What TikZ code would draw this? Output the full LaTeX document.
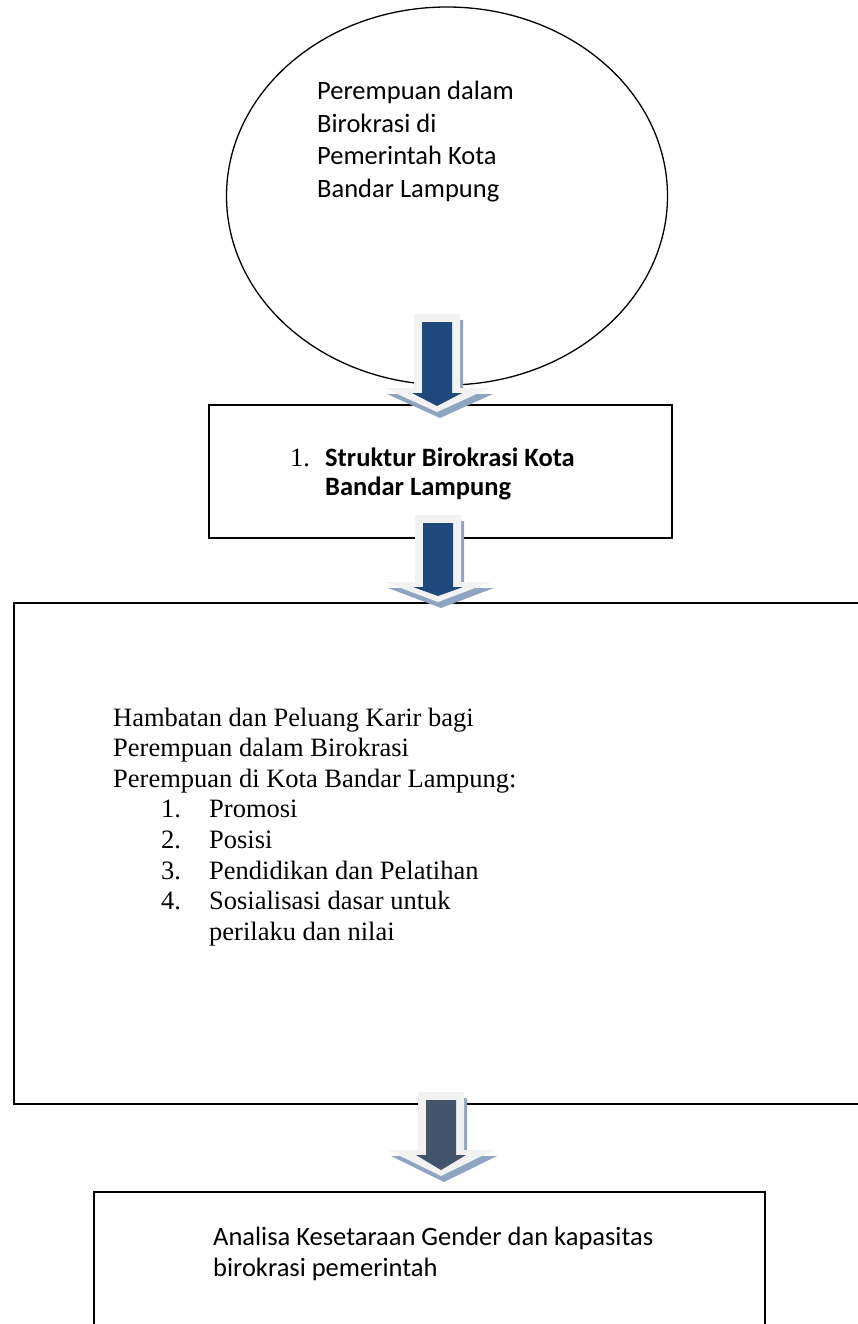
\documentclass[tikz,border=0pt]{standalone}
\usepackage{fontspec}
\setmainfont{Liberation Serif}
\newfontfamily\calibri{Carlito}
\usetikzlibrary{shapes.geometric}

\definecolor{arrowblue}{HTML}{1F497D}
\definecolor{arrowslate}{HTML}{44546A}
\definecolor{arrowlight}{HTML}{F2F2F2}
\definecolor{arrowshade}{HTML}{8EA4C1}

% block arrow: #1 centre x, #2 top, #3 head base, #4 tip, #5 colour
\newcommand{\blockarrow}[5]{%
	\fill[arrowshade,shift={(3,6)}] (#1-23,#2) -- (#1+23,#2) -- (#1+23,#3) -- (#1+53,#3)
		-- (#1,#4-6) -- (#1-53,#3) -- (#1-23,#3) -- cycle;
	\fill[arrowlight] (#1-23,#2) -- (#1+23,#2) -- (#1+23,#3) -- (#1+53,#3)
		-- (#1,#4-6) -- (#1-53,#3) -- (#1-23,#3) -- cycle;
	\fill[#5] (#1-15,#2+8) -- (#1+15,#2+8) -- (#1+15,#3+5) -- (#1+25,#3+5)
		-- (#1,#4-12) -- (#1-25,#3+5) -- (#1-15,#3+5) -- cycle;
}

\begin{document}
\begin{tikzpicture}[x=1pt,y=-1pt,
	box/.style={draw,line width=1.3pt,inner sep=0pt},
	txt/.style={anchor=base west,inner sep=0pt}]
	\useasboundingbox (0,0) rectangle (857,1324);
	
	\node[ellipse,draw,line width=1.3pt,minimum width=441pt,minimum height=378pt,
		inner sep=0pt](kota) at (447,196){};
	\node[txt,font=\calibri\fontsize{26.5}{32.4}\selectfont](kotatext) at (317,100)
		{\begin{tabular}[t]{@{}l@{}}Perempuan dalam\\Birokrasi di\\Pemerintah Kota\\Bandar Lampung\end{tabular}};
	
	\node[box,minimum width=463pt,minimum height=133pt](struktur) at (440.5,471.5){};
	\node[txt,font=\fontsize{26.5}{29}\selectfont](strukturno) at (290,466){1.};
	\node[txt,font=\calibri\bfseries\fontsize{26.5}{29}\selectfont](strukturtext) at (325,466)
		{\begin{tabular}[t]{@{}l@{}}Struktur Birokrasi Kota\\Bandar Lampung\end{tabular}};
	
	\node[box,line width=2pt,minimum width=880pt,minimum height=501pt](hambatan) at (454,853.5){};
	\node[txt,font=\fontsize{26.5}{30.6}\selectfont](hambatantext) at (113,726)
		{\begin{tabular}[t]{@{}p{48pt}@{}p{48pt}@{}l@{}}
			\multicolumn{3}{@{}l@{}}{Hambatan dan Peluang Karir bagi}\\
			\multicolumn{3}{@{}l@{}}{Perempuan dalam Birokrasi}\\
			\multicolumn{3}{@{}l@{}}{Perempuan di Kota Bandar Lampung:}\\
			& 1. & Promosi\\
			& 2. & Posisi\\
			& 3. & Pendidikan dan Pelatihan\\
			& 4. & Sosialisasi dasar untuk\\
			& & perilaku dan nilai
		\end{tabular}};
	
	\node[box,minimum width=671pt,minimum height=170pt](analisa) at (429.5,1277){};
	\node[txt,font=\calibri\fontsize{26.5}{31}\selectfont](analisatext) at (213,1245)
		{\begin{tabular}[t]{@{}l@{}}Analisa Kesetaraan Gender dan kapasitas\\birokrasi pemerintah\end{tabular}};
	
	% arrows between the blocks
	\blockarrow{437}{314}{388}{418}{arrowblue}
	\blockarrow{438}{515}{582}{608}{arrowblue}
	\blockarrow{441}{1092}{1150}{1182}{arrowslate}
\end{tikzpicture}
\end{document}
